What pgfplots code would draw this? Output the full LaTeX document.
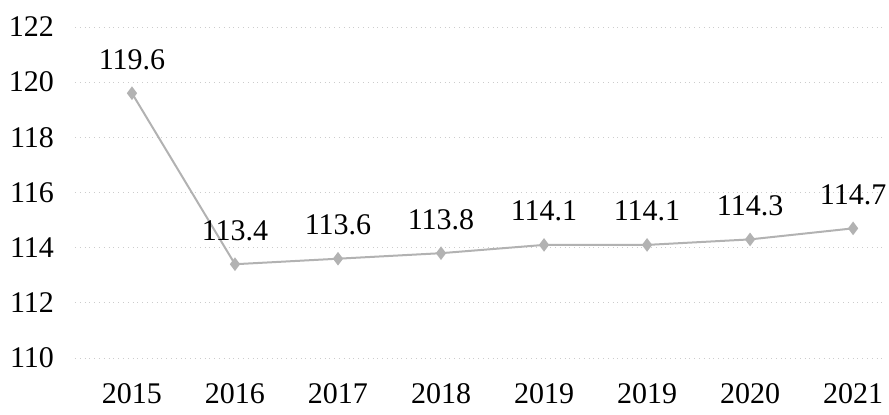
\documentclass[border=0pt]{standalone}
\usepackage{fontspec}
\setmainfont{Liberation Serif}
\usepackage{pgfplots}
\pgfplotsset{compat=1.18}
\begin{document}
\begin{tikzpicture}[x=0.5pt,y=0.5pt]
\begin{axis}[
  name=ax,
  at={(0,0)}, anchor=south west,
  scale only axis,
  width=405pt, height=165.5pt,
  xmin=-0.553, xmax=7.31,
  ymin=110, ymax=122,
  ytick={110,112,...,122},
  xtick={0,...,7},
  xticklabels={2015,2016,2017,2018,2019,2019,2020,2021},
  axis line style={draw=none},
  major tick length=0pt,
  ymajorgrids,
  grid style={gray!40, dotted, line width=0.5pt},
  tick label style={font=\fontsize{15}{17}\selectfont},
  yticklabel style={anchor=east, xshift=-7pt},
  xticklabel style={anchor=north, yshift=-9pt},
  /pgf/number format/assume math mode=true,
  clip=false,
]
\addplot[
  color=gray!60, line width=1pt,
  mark=diamond*, mark size=2.6pt, mark options={fill=gray!60, draw=gray!60},
  nodes near coords,
  nodes near coords style={anchor=south, yshift=8pt, text=black,
    font=\fontsize{15}{17}\selectfont,
    /pgf/number format/fixed, /pgf/number format/fixed zerofill,
    /pgf/number format/precision=1,
    /pgf/number format/assume math mode=true},
] coordinates {
  (0,119.6) (1,113.4) (2,113.6) (3,113.8) (4,114.1) (5,114.1) (6,114.3) (7,114.7)
};
\end{axis}
\pgfresetboundingbox
\path (ax.south west) ++(-75,-56) coordinate (bl);
\path (ax.north west) ++(814,27) coordinate (tr);
\path[use as bounding box] (bl) rectangle (tr);
\end{tikzpicture}
\end{document}
